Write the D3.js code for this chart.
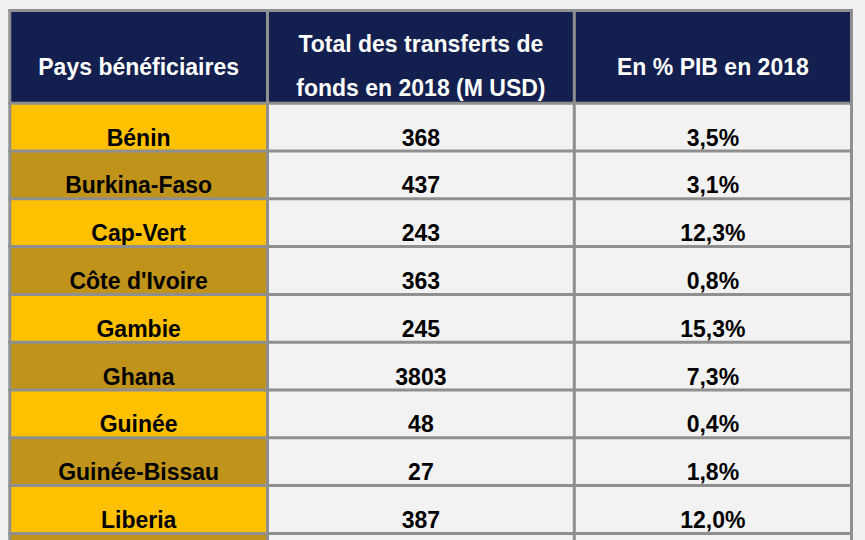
<!DOCTYPE html>
<html><head><meta charset="utf-8">
<script src="https://cdn.jsdelivr.net/npm/d3@7"></script>
<style>
html,body{margin:0;padding:0;background:#f1f1f1;}
svg{display:block;}
text{font-family:"Liberation Sans",Arial,sans-serif;font-weight:bold;}
</style></head>
<body>
<script>
// ---- data ----
const countries = ["Bénin","Burkina-Faso","Cap-Vert","Côte d'Ivoire","Gambie","Ghana","Guinée","Guinée-Bissau","Liberia"];
const transfers = [368,437,243,363,245,3803,48,27,387];
const pctPIB = [3.5,3.1,12.3,0.8,15.3,7.3,0.4,1.8,12.0];
const headerCol1 = ["Pays bénéficiaires"];
const headerCol2 = ["Total des transferts de","fonds en 2018 (M USD)"];
const headerCol3 = ["En % PIB en 2018"];

// ---- layout ----
const W = 865, H = 540;
const colEdges = [9.8, 267.5, 574.3, 851.5];
const topY = 10.5, headBottom = 103.2, rowH = 47.8;
const nRows = countries.length + 1; // one more row continues below the frame
const gridColor = "#8f8f8f", gridW = 3;
const navy = "#13204f", gold = "#ffc000", darkGold = "#c0941a", cellBg = "#f2f2f2";
const fs = 23;

const svg = d3.select("body").append("svg").attr("width", W).attr("height", H);

const y = d3.scaleBand().domain(d3.range(nRows)).range([headBottom, headBottom + nRows*rowH]).padding(0);
const x = d3.scaleOrdinal().domain([0,1,2]).range([0,1,2].map(i => [colEdges[i], colEdges[i+1]]));

// header background
svg.append("rect").attr("x", colEdges[0]).attr("y", topY).attr("width", colEdges[3]-colEdges[0])
  .attr("height", headBottom-topY).attr("fill", navy);

// row backgrounds
const rows = svg.append("g").selectAll("g").data(d3.range(nRows)).join("g");
rows.append("rect").attr("x", colEdges[0]).attr("y", i => y(i)).attr("width", colEdges[1]-colEdges[0])
  .attr("height", y.bandwidth()).attr("fill", i => i % 2 === 0 ? gold : darkGold);
rows.append("rect").attr("x", colEdges[1]).attr("y", i => y(i)).attr("width", colEdges[3]-colEdges[1])
  .attr("height", y.bandwidth()).attr("fill", cellBg);

// header text
const cx = i => (x(i)[0] + x(i)[1]) / 2;
const hdr = svg.append("g").attr("fill", "#ffffff").attr("font-size", fs).attr("text-anchor", "middle");
hdr.append("text").attr("x", cx(0)).attr("y", 74.5).text(headerCol1[0]);
hdr.selectAll(".h2").data(headerCol2).join("text").attr("x", cx(1)).attr("y", (d,i) => 52 + i*44).text(d => d);
hdr.append("text").attr("x", cx(2)).attr("y", 74.5).text(headerCol3[0]);

// body text
const fmtPct = v => d3.format(".1f")(v).replace(".", ",") + "%";
const body = svg.append("g").attr("fill", "#000000").attr("font-size", fs).attr("text-anchor", "middle");
const cells = countries.map((c, i) => ({i, vals: [c, String(transfers[i]), fmtPct(pctPIB[i])]}));
cells.forEach(r => {
  r.vals.forEach((v, j) => {
    body.append("text").attr("x", cx(j)).attr("y", y(r.i) + y.bandwidth() - 5.5).text(v);
  });
});

// grid lines
const grid = svg.append("g").attr("stroke", gridColor).attr("stroke-width", gridW);
grid.selectAll(".v").data(colEdges).join("line")
  .attr("x1", d => d).attr("x2", d => d).attr("y1", topY - 1.5).attr("y2", H + 5);
const hLines = [topY, headBottom].concat(d3.range(nRows).map(i => y(i) + y.bandwidth()));
grid.selectAll(".h").data(hLines).join("line")
  .attr("x1", colEdges[0] - 1.5).attr("x2", colEdges[3] + 1.5).attr("y1", d => d).attr("y2", d => d);
</script>
</body></html>
